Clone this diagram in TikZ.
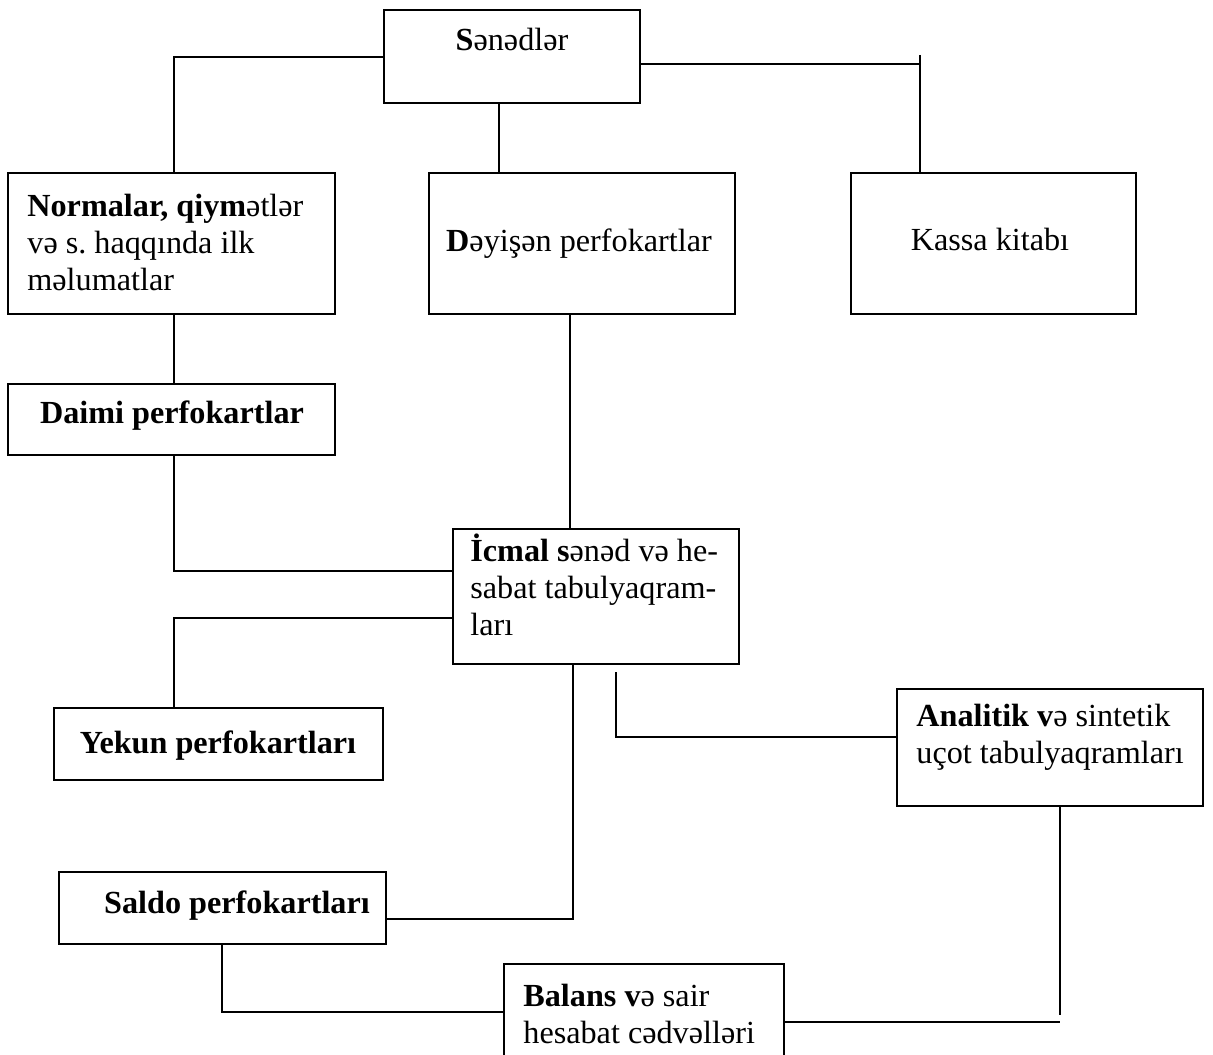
\documentclass[tikz,border=0pt]{standalone}
\usepackage{fontspec}
\setmainfont{Liberation Serif}
\frenchspacing
% a box given by its top-left and bottom-right corners (in pixel units)
\newcommand\boxnode[5]{\node[box, minimum width={(#4-#2)*0.5pt}, minimum height={(#5-#3)*0.5pt}] (#1) at (#2,#3) {};}
% left-aligned lines whose first baseline is the node's base
\newcommand\leftlines[1]{\begin{tabular}[t]{@{}l@{}}#1\end{tabular}}
\begin{document}
\begin{tikzpicture}[x=0.5pt,y=-0.5pt,
  box/.style={draw, line width=1pt, inner sep=0pt, outer sep=0pt, anchor=north west},
  txt/.style={inner sep=0pt, font=\fontsize{16.1}{18.5}\selectfont},
  conn/.style={line width=1pt}]
\clip (0,0) rectangle (1213,1054);
\fill[white] (0,0) rectangle (1213,1054);

% boxes
\boxnode{sened}{384}{10}{640}{103}
\boxnode{norm}{8}{173}{335}{314}
\boxnode{deyis}{429}{173}{735}{314}
\boxnode{kassa}{851}{173}{1136}{314}
\boxnode{daimi}{8}{384}{335}{455}
\boxnode{icmal}{453}{529}{739}{664}
\boxnode{yekun}{54}{708}{383}{780}
\boxnode{anal}{897}{689}{1203}{806}
\boxnode{saldo}{59}{872}{386}{944}
\boxnode{balans}{504}{964}{784}{1100}

% texts
\node[txt, anchor=base] (sened-t) at (512,51) {\textbf{S}ənədlər};
\node[txt, anchor=base west] (norm-t) at (27,216) {\leftlines{\textbf{Normalar, qiym}ətlər\\və s. haqqında ilk\\məlumatlar}};
\node[txt, anchor=base] (deyis-t) at (579,251) {\textbf{D}əyişən perfokartlar};
\node[txt, anchor=base] (kassa-t) at (990,250) {Kassa kitabı};
\node[txt, anchor=base] (daimi-t) at (172,423) {\textbf{Daimi perfokartlar}};
\node[txt, anchor=base west] (icmal-t) at (470,561) {\leftlines{\textbf{İcmal s}ənəd və he-\\sabat tabulyaqram-\\ları}};
\node[txt, anchor=base] (yekun-t) at (218,753) {\textbf{Yekun perfokartları}};
\node[txt, anchor=base west] (anal-t) at (916,726) {\leftlines{\textbf{Analitik v}ə sintetik\\uçot tabulyaqramları}};
\node[txt, anchor=base] (saldo-t) at (237,913) {\textbf{Saldo perfokartları}};
\node[txt, anchor=base west] (balans-t) at (523,1006) {\leftlines{\textbf{Balans v}ə sair\\hesabat cədvəlləri}};

% free ends of connectors
\coordinate (ktick) at (920,55);
\coordinate (aend) at (616,672);
\coordinate (bend) at (1060,1015);

% connectors
\draw[conn] (sened.west |- 0,57) -| (norm.north -| 174,0);
\draw[conn] (sened.east |- 0,64) -- (ktick |- 0,64);
\draw[conn] (ktick) -- (ktick |- kassa.north);
\draw[conn] (sened.south -| 499,0) -- (deyis.north -| 499,0);
\draw[conn] (norm.south -| 174,0) -- (daimi.north -| 174,0);
\draw[conn] (daimi.south -| 174,0) |- (icmal.west |- 0,571);
\draw[conn] (deyis.south -| 570,0) -- (icmal.north -| 570,0);
\draw[conn] (icmal.west |- 0,618) -| (yekun.north -| 174,0);
\draw[conn] (icmal.south -| 573,0) |- (saldo.east |- 0,919);
\draw[conn] (aend) |- (anal.west |- 0,737);
\draw[conn] (anal.south -| bend) -- (bend);
\draw[conn] (balans.east |- 0,1022) -- (bend |- 0,1022);
\draw[conn] (saldo.south -| 222,0) |- (balans.west |- 0,1012);
\end{tikzpicture}
\end{document}
